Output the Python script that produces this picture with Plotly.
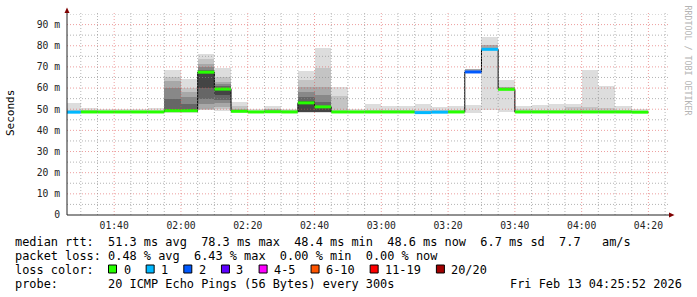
import plotly.graph_objects as go
import pandas as pd

DAY = "2026-02-13"
X_START = DAY + " 01:25:52"
X_END = DAY + " 04:25:52"
BIN_MS = 300000  # 5-minute step

# ---- data -------------------------------------------------------------
bin_start = ["01:25", "01:30", "01:35", "01:40", "01:45", "01:50", "01:55",
             "02:00", "02:05", "02:10", "02:15", "02:20", "02:25", "02:30",
             "02:35", "02:40", "02:45", "02:50", "02:55", "03:00", "03:05",
             "03:10", "03:15", "03:20", "03:25", "03:30", "03:35", "03:40",
             "03:45", "03:50", "03:55", "04:00", "04:05", "04:10", "04:15"]
bin_last_end = "04:20"

median_ms = [48.6, 48.7, 48.7, 48.7, 48.7, 48.7, 49.3, 49.3, 67.5, 59.5,
             49.0, 48.7, 48.8, 48.7, 53.0, 51.1, 48.7, 48.7, 48.7, 48.7,
             48.7, 48.4, 48.6, 48.7, 67.6, 78.3, 59.4, 48.7, 48.7, 48.7,
             48.7, 48.7, 48.7, 48.7, 48.6]

loss_pings = [1, 0, 0, 0, 0, 0, 0, 0, 0, 0, 0, 0, 0, 0, 0, 0, 0, 0, 0, 0,
              0, 1, 1, 0, 2, 1, 0, 0, 0, 0, 0, 0, 0, 0, 0]

N = None
# smoke layers (ms low, ms high), outermost first
smoke_layer1 = [(48.4, 53.0), (48.5, 50.8), (48.5, 50.0), (48.5, 50.2), (48.5, 50.3),
                (48.5, 50.4), (48.4, 68.7), (48.4, 64.5), (49.4, 76.3), (49.0, 69.5),
                (48.5, 53.2), (48.5, 50.3), (48.5, 51.5), (48.5, 50.2), (48.4, 67.9),
                (48.4, 79.1), (48.4, 60.4), (48.5, 50.3), (48.5, 52.4), (48.5, 51.4),
                (48.5, 51.7), (48.2, 52.4), (48.4, 50.9), (48.5, 51.4), (48.3, 51.9),
                (49.5, 84.1), (48.7, 63.7), (48.5, 51.4), (48.5, 51.9), (48.5, 52.4),
                (48.5, 52.4), (48.5, 68.4), (48.5, 60.8), (48.5, 51.4), (48.5, 50.0)]
smoke_layer2 = [(48.5, 49.6), (48.6, 49.4), N, N, N,
                N, (48.5, 65.0), (48.5, 60.2), (49.6, 73.9), (50.0, 65.2),
                (48.6, 51.4), N, (48.6, 50.2), (48.6, 49.6), (48.5, 63.7),
                (48.5, 69.5), (48.5, 56.1), N, (48.6, 49.7), (48.6, 49.4),
                (48.6, 49.5), (48.3, 49.5), (48.5, 49.6), (48.6, 49.6), N,
                N, N, (48.6, 50.3), (48.6, 49.8), (48.6, 49.8),
                (48.6, 51.0), (48.6, 51.0), (48.6, 50.6), (48.6, 49.8), N]
smoke_layer3 = [N, N, N, N, N,
                N, (48.6, 63.4), (48.6, 58.2), (50.3, 71.6), (51.1, 62.9),
                (48.7, 50.0), N, (48.7, 49.9), N, (48.6, 60.5),
                (48.6, 60.5), N, N, N, N,
                N, N, N, N, (67.0, 68.8),
                (78.6, 80.4), (59.4, 60.3), N, N, N,
                N, N, N, N, N]
smoke_layer4 = [N, N, N, N, N,
                N, (48.7, 59.8), (48.7, 55.8), (52.7, 70.0), (52.8, 62.0),
                N, N, N, N, (48.7, 58.2),
                (48.7, 56.6), N, N, N, N,
                N, N, N, N, N,
                N, N, N, N, N,
                N, N, N, N, N]
smoke_layer5 = [N, N, N, N, N,
                N, (48.8, 55.0), (48.8, 52.7), (55.0, 68.5), (54.2, 61.0),
                N, N, N, N, (48.8, 55.8),
                (48.8, 53.4), N, N, N, N,
                N, N, N, N, N,
                N, N, N, N, N,
                N, N, N, N, N]
smoke_layer6 = [N, N, N, N, N,
                N, (48.9, 50.3), (48.9, 50.3), (59.8, 67.0), (56.5, 60.2),
                N, N, N, N, (48.9, 53.8),
                (48.9, 51.6), N, N, N, N,
                N, N, N, N, N,
                N, N, N, N, N,
                N, N, N, N, N]

y_tick_vals = [0, 10, 20, 30, 40, 50, 60, 70, 80, 90]
y_tick_text = ["0", "10 m", "20 m", "30 m", "40 m", "50 m", "60 m", "70 m", "80 m", "90 m"]

loss_labels = ["0", "1", "2", "3", "4-5", "6-10", "11-19", "20/20"]
loss_colors = ["#26ff00", "#00b8ff", "#0059ff", "#5e00ff", "#ff00ff", "#ff5500", "#ff0000", "#a10000"]

legend_rtt = "median rtt:  51.3 ms avg  78.3 ms max  48.4 ms min  48.6 ms now  6.7 ms sd  7.7   am/s"
legend_loss = "packet loss: 0.48 % avg  6.43 % max  0.00 % min  0.00 % now"
legend_probe = "probe:       20 ICMP Echo Pings (56 Bytes) every 300s"
stamp_text = "Fri Feb 13 04:25:52 2026"
watermark = "RRDTOOL / TOBI OETIKER"

# ---- geometry ---------------------------------------------------------
W, H = 697, 297
PL, PR, PT, PB = 67, 668, 14, 215  # plot area in pixels
MONO = "DejaVu Sans Mono"


def px(x):
    return (x - PL) / (PR - PL)


def py(y):
    return (PB - y) / (PB - PT)


def loss_index(n):
    if n <= 3:
        return n
    if n <= 5:
        return 4
    if n <= 10:
        return 5
    if n <= 19:
        return 6
    return 7


times = [pd.Timestamp(f"{DAY} {t}") for t in bin_start]
end_time = pd.Timestamp(f"{DAY} {bin_last_end}")
bin_end = times[1:] + [end_time]

fig = go.Figure()

layer_colors = ["#dddddd", "#c4c4c4", "#a8a8a8", "#888888", "#666666", "#444444"]
for layer, col in zip([smoke_layer1, smoke_layer2, smoke_layer3,
                       smoke_layer4, smoke_layer5, smoke_layer6], layer_colors):
    xs, bases, hs = [], [], []
    for t, band in zip(times, layer):
        if band is None:
            continue
        xs.append(t)
        bases.append(band[0])
        hs.append(band[1] - band[0])
    fig.add_trace(go.Bar(x=xs, y=hs, base=bases, width=BIN_MS, offset=0,
                         marker=dict(color=col, line=dict(width=0)),
                         showlegend=False, hoverinfo="skip"))

# black median step line
fig.add_trace(go.Scatter(x=times + [end_time], y=median_ms + [median_ms[-1]],
                         mode="lines", line=dict(color="#000000", width=1, shape="hv"),
                         showlegend=False, hoverinfo="skip"))

# loss-coloured median segments
for li, col in enumerate(loss_colors):
    sx, sy = [], []
    for t0, t1, m, l in zip(times, bin_end, median_ms, loss_pings):
        if loss_index(l) != li:
            continue
        sx += [t0, t1, None]
        sy += [m, m, None]
    if sx:
        fig.add_trace(go.Scatter(x=sx, y=sy, mode="lines",
                                 line=dict(color=col, width=3),
                                 showlegend=False, hoverinfo="skip"))

shapes = []
GRID = "rgba(140,140,140,0.65)"
MGRID = "rgba(222,80,80,0.55)"
for v in range(5, 100, 5):
    shapes.append(dict(type="line", xref="paper", yref="y", x0=0, x1=1, y0=v, y1=v,
                       line=dict(color=MGRID if v % 10 == 0 else GRID, width=1, dash="1px,2px"),
                       layer="above"))
for t in pd.date_range(f"{DAY} 01:30", f"{DAY} 04:25", freq="5min"):
    shapes.append(dict(type="line", xref="x", yref="paper", x0=t, x1=t, y0=0, y1=py(PT - 1),
                       line=dict(color=MGRID if t.minute % 20 == 0 else GRID, width=1, dash="1px,2px"),
                       layer="above"))

# axes with arrows
AX = "#222222"
ARROW = "#7f0000"
shapes.append(dict(type="line", xref="paper", yref="paper", x0=px(PL), x1=px(670),
                   y0=py(PB), y1=py(PB), line=dict(color=AX, width=1), layer="above"))
shapes.append(dict(type="line", xref="paper", yref="paper", x0=px(PL), x1=px(PL),
                   y0=py(PB), y1=py(11), line=dict(color=AX, width=1), layer="above"))
shapes.append(dict(type="path", xref="paper", yref="paper",
                   path=f"M {px(669)} {py(212.5)} L {px(674.5)} {py(PB)} L {px(669)} {py(217.5)} Z",
                   fillcolor=ARROW, line=dict(color=ARROW, width=0), layer="above"))
shapes.append(dict(type="path", xref="paper", yref="paper",
                   path=f"M {px(64.5)} {py(13)} L {px(PL)} {py(7.5)} L {px(69.5)} {py(13)} Z",
                   fillcolor=ARROW, line=dict(color=ARROW, width=0), layer="above"))

annotations = []


def ann(text, x, y, xanchor="left", size=11.9, color="#000000", angle=0, yanchor="middle"):
    annotations.append(dict(text=text.replace(" ", "\u00a0"), x=px(x), y=py(y),
                            xref="paper", yref="paper", xanchor=xanchor, yanchor=yanchor,
                            showarrow=False, textangle=angle, borderpad=0, borderwidth=0,
                            font=dict(family=MONO, size=size, color=color)))


ann(legend_rtt, 15, 241.5)
ann(legend_loss, 15, 255.5)
ann("loss color:", 15, 269.5)
ann(legend_probe, 15, 283.5)
ann(stamp_text, 682, 283.5, xanchor="right")
ann("Seconds", 10, 113, xanchor="center", size=11, angle=-90)
ann(watermark, 687.5, 60, xanchor="center", size=8.3, color="#b4b4b4", angle=90)

# loss colour legend boxes
bx = 108.5
for lab, col in zip(loss_labels, loss_colors):
    shapes.append(dict(type="rect", xref="paper", yref="paper",
                       x0=px(bx), x1=px(bx + 8), y0=py(273), y1=py(265),
                       fillcolor=col, line=dict(color="#000000", width=1), layer="above"))
    ann(lab, bx + 15, 269.5)
    bx = bx + 16 + len(lab) * 7.15 + 14.5

fig.update_layout(
    width=W, height=H,
    margin=dict(l=PL, r=W - PR, t=PT, b=H - PB, pad=0),
    paper_bgcolor="#ffffff", plot_bgcolor="#ffffff",
    barmode="overlay", bargap=0,
    showlegend=False,
    shapes=shapes, annotations=annotations,
    xaxis=dict(type="date", range=[X_START, X_END], showgrid=False, zeroline=False,
               showline=False, ticks="", tick0=DAY + " 00:00:00", dtick=1200000,
               tickformat="%H:%M", ticklabelstandoff=3,
               tickfont=dict(family=MONO, size=9.7, color="#222222")),
    yaxis=dict(range=[0, 95], showgrid=False, zeroline=False, showline=False,
               ticks="", tickvals=y_tick_vals, ticktext=y_tick_text,
               ticklabelstandoff=6,
               tickfont=dict(family=MONO, size=9.7, color="#222222")),
)

fig.write_html("out.html")
